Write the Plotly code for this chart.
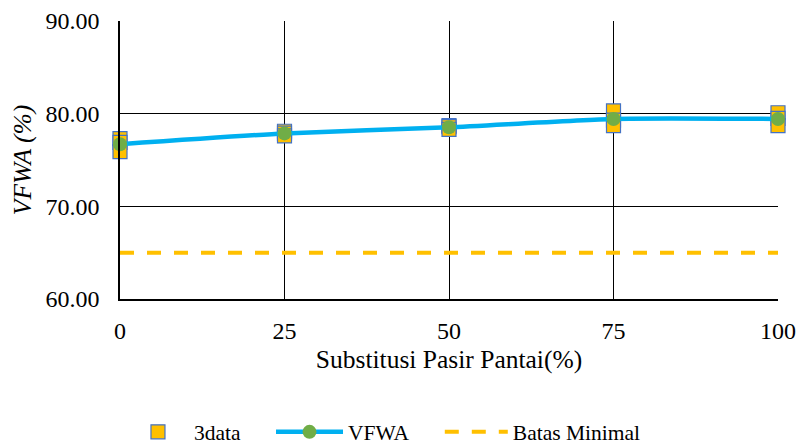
import plotly.graph_objects as go

# Substitution level of beach sand (%)
substitusi = [0, 25, 50, 75, 100]

# Three VFWA test results per mix (%)
uji_1 = [77.3, 78.1, 78.7, 80.3, 80.1]
uji_2 = [76.9, 77.9, 78.6, 79.3, 79.5]
uji_3 = [75.9, 77.6, 78.3, 78.7, 78.7]

# Minimum VFWA requirement (%)
batas_minimal = 65.0

# Mean of the three tests
vfwa_rata = [round((a + b + c) / 3, 2) for a, b, c in zip(uji_1, uji_2, uji_3)]

FONT = "Liberation Serif"

fig = go.Figure()

x_all = substitusi * 3
y_all = uji_1 + uji_2 + uji_3
fig.add_trace(go.Scatter(
    x=x_all, y=y_all, mode="markers", name="3data", legend="legend",
    marker=dict(symbol="square", size=14, color="#FFC000",
                line=dict(color="#4472C4", width=1.2)),
    cliponaxis=False,
))

fig.add_trace(go.Scatter(
    x=substitusi, y=vfwa_rata, mode="lines+markers", name="VFWA", legend="legend2",
    line=dict(color="#00B0F0", width=4.5, shape="spline", smoothing=0.6),
    marker=dict(symbol="circle", size=14, color="#70AD47"),
    cliponaxis=False,
))

fig.add_trace(go.Scatter(
    x=[substitusi[0], substitusi[-1]], y=[batas_minimal, batas_minimal],
    mode="lines", name="Batas Minimal", legend="legend3",
    line=dict(color="#FFC000", width=4, dash="14px,13px"),
))

legend_common = dict(orientation="h", y=-0.478, yanchor="middle", xanchor="left",
                     font=dict(family=FONT, size=21.5, color="black"),
                     bgcolor="rgba(0,0,0,0)", borderwidth=0)

fig.update_layout(
    width=798, height=444,
    margin=dict(l=120, r=20, t=21, b=145, autoexpand=False),
    paper_bgcolor="white", plot_bgcolor="white",
    font=dict(family=FONT, size=24, color="black"),
    showlegend=True,
    legend=dict(x=0.003, itemwidth=62, **legend_common),
    legend2=dict(x=0.2295, itemwidth=67, **legend_common),
    legend3=dict(x=0.486, itemwidth=63, **legend_common),
)

fig.update_xaxes(
    range=[0, 100], tickvals=substitusi, ticktext=[str(v) for v in substitusi],
    showgrid=True, gridcolor="black", gridwidth=1.4,
    showline=True, linecolor="black", linewidth=1.6, mirror=False,
    zeroline=False, ticks="", ticklabelstandoff=9,
    tickfont=dict(family=FONT, size=24, color="black"),
    title=dict(text="Substitusi Pasir Pantai(%)", standoff=8,
               font=dict(family=FONT, size=25.5, color="black")),
)

fig.update_yaxes(
    range=[60, 90], tickvals=[60, 70, 80, 90], tickformat=".2f",
    showgrid=True, gridcolor="black", gridwidth=1.4,
    showline=True, linecolor="black", linewidth=1.6,
    zeroline=False, ticks="", ticklabelstandoff=14,
    tickfont=dict(family=FONT, size=24, color="black"),
    title=dict(text="<i>VFWA (%)</i>", standoff=6,
               font=dict(family=FONT, size=25.5, color="black")),
)

fig.write_html("out.html")
